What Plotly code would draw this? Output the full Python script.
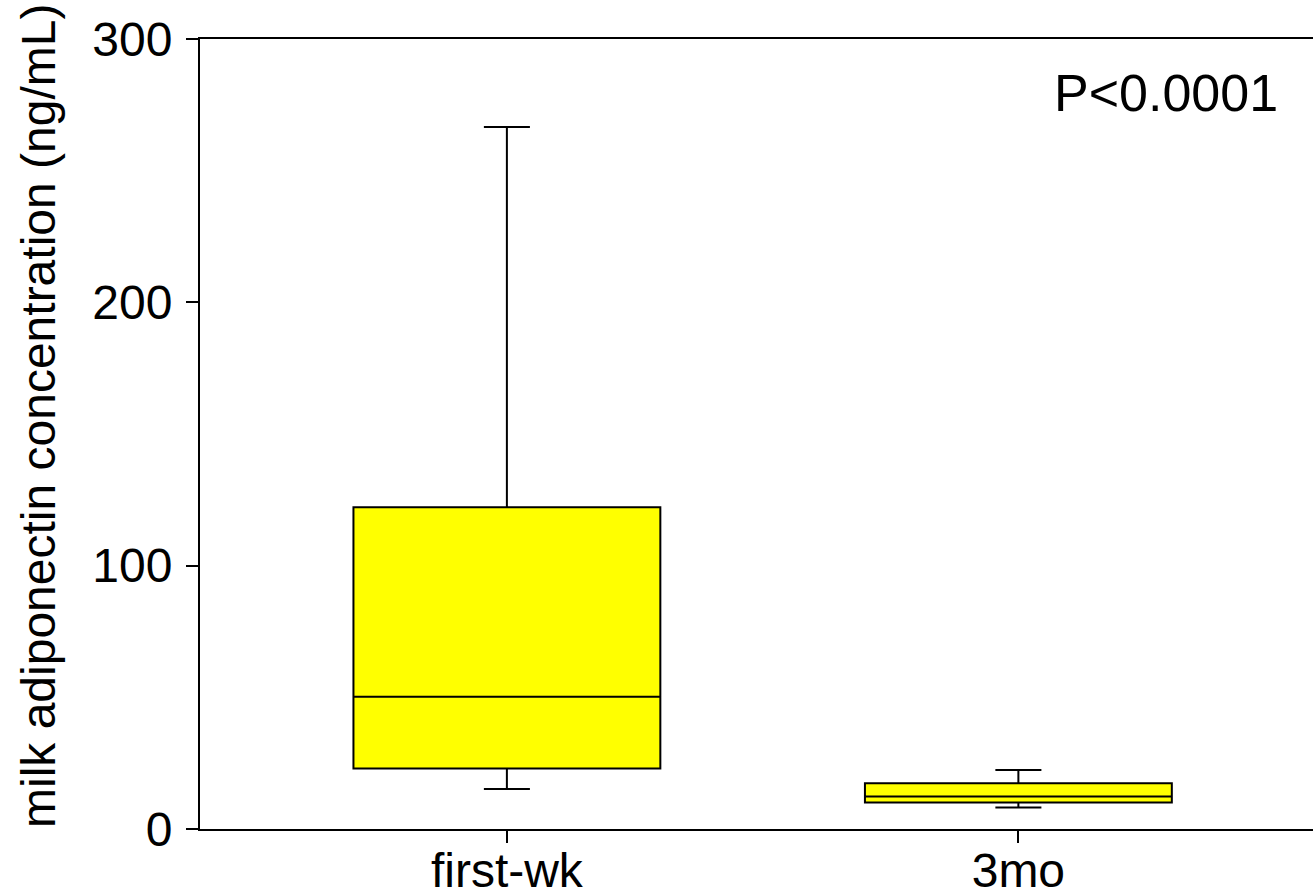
import plotly.graph_objects as go

categories = ["first-wk", "3mo"]
q1 = [23.0, 10.1]
median = [50.2, 12.3]
q3 = [122.2, 17.4]
lowerfence = [15.2, 8.2]
upperfence = [266.6, 22.4]
y_ticks = [0, 100, 200, 300]

W, H = 1313, 896
L, R, T, B = 200, 0, 39, 67
FONT = "Liberation Sans, Arial, sans-serif"

fig = go.Figure()
fig.add_trace(go.Box(
    x=categories, q1=q1, median=median, q3=q3,
    lowerfence=lowerfence, upperfence=upperfence,
    width=0.6, whiskerwidth=0.15,
    fillcolor="#FFFF00", line=dict(color="black", width=2),
    boxpoints=False, showlegend=False, hoverinfo="skip",
))

fig.update_layout(
    width=W, height=H,
    margin=dict(l=L, r=R, t=T, b=B, pad=0, autoexpand=False),
    paper_bgcolor="white", plot_bgcolor="white",
    font=dict(family=FONT, size=48, color="black"),
    xaxis=dict(
        type="category", range=[-0.6, 1.576], automargin=False,
        showline=True, linecolor="black", linewidth=2, mirror=True,
        ticks="outside", ticklen=12, tickwidth=2, tickcolor="black",
        showgrid=False, zeroline=False,
        tickfont=dict(size=48, family=FONT),
        ticklabelstandoff=-14,
    ),
    yaxis=dict(
        range=[0, 300], tickvals=y_ticks, automargin=False,
        showline=True, linecolor="black", linewidth=2, mirror=False,
        ticks="outside", ticklen=12, tickwidth=2, tickcolor="black",
        showgrid=False, zeroline=False,
        tickfont=dict(size=48, family=FONT),
        ticklabelstandoff=4,
    ),
    annotations=[
        dict(text="milk adiponectin concentration (ng/mL)", textangle=-90,
             xref="paper", yref="paper",
             x=(38 - L) / (W - L - R), y=(H - B - 416) / (H - T - B),
             xanchor="center", yanchor="middle", showarrow=False,
             font=dict(size=48, family=FONT)),
        dict(text="P<0.0001", xref="paper", yref="paper",
             x=(1280 - L) / (W - L - R), y=(H - B - 93) / (H - T - B),
             xanchor="right", yanchor="middle", showarrow=False,
             font=dict(size=52, family=FONT)),
    ],
)

fig.write_html(
    "out.html",
    config={"displayModeBar": False},
    post_script="document.body.style.margin='0';document.body.style.padding='0';"
                "document.documentElement.style.overflow='hidden';",
)
